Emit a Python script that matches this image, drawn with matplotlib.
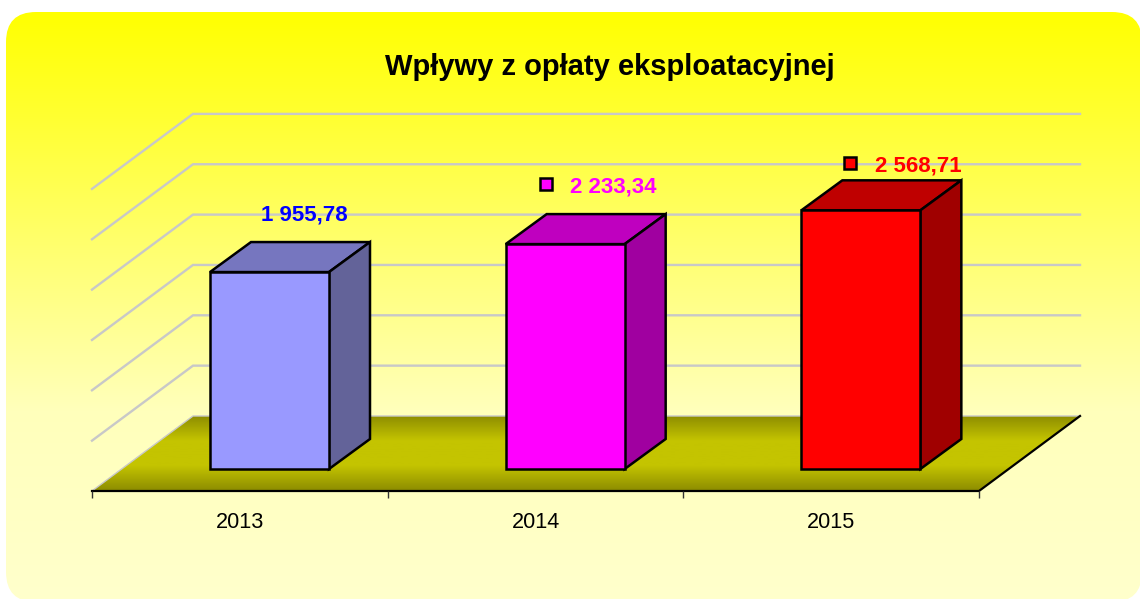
import matplotlib
matplotlib.use('Agg')
import matplotlib.pyplot as plt
from matplotlib.colors import LinearSegmentedColormap
from matplotlib.patches import FancyBboxPatch, Polygon
from matplotlib.transforms import IdentityTransform
import numpy as np

years = ['2013', '2014', '2015']
values = [1955.78, 2233.34, 2568.71]
value_labels = ['1 955,78', '2 233,34', '2 568,71']
grid_values = [500, 1000, 1500, 2000, 2500, 3000]

front_colors = ['#9999FF', '#FF00FF', '#FF0000']
top_colors = ['#7676BF', '#BF00BF', '#BF0000']
side_colors = ['#636399', '#A000A0', '#A00000']
label_colors = ['#0000FF', '#FF00FF', '#FF0000']
show_marker = [False, True, True]

# scale of the picture
px_x = 295.67   # pixels per category
px_y = 0.1007   # pixels per value unit
W, H = 1140, 599

def dx(px):
    return px / px_x

def dy(px):
    return px / px_y

# offsets of the 3d box, in data units
wall_x, wall_y = dx(101), dy(75)
bar_x, bar_y = dx(118), dy(22)
depth_x, depth_y = dx(41), dy(30)
bar_w = dx(119)
# label position from the back top edge of the box
label_dx = [dx(53), dx(67), dx(76)]
label_dy = [dy(27), dy(27), dy(14.5)]

plt.rcParams['font.family'] = ['Liberation Sans', 'DejaVu Sans']
fig = plt.figure(figsize=(W / 100, H / 100), dpi=100)
ax = fig.add_axes([0, 0, 1, 1])
xlim = (-92 / px_x - 0.5, (W - 92) / px_x - 0.5)
ylim = (-(H - 491) / px_y, 491 / px_y)
ax.axis('off')

# page background with the rounded panel
bg_cmap = LinearSegmentedColormap.from_list('bg', [(0, '#FFFF00'), (0.68, '#FFFFBB'), (1, '#FFFFCC')])
bg = ax.imshow(np.linspace(0, 1, 256).reshape(-1, 1), cmap=bg_cmap, aspect='auto', zorder=0,
               extent=(xlim[0], xlim[1], ylim[0], ylim[1] - dy(12)), origin='upper')
panel = FancyBboxPatch((6, -3), W - 4, H + 3 - 12, boxstyle='round,pad=0,rounding_size=30',
                       transform=IdentityTransform(), fc='none', ec='none')
ax.add_patch(panel)
bg.set_clip_path(panel)

# back wall grid
for v in grid_values:
    ax.plot([-0.5, -0.5 + wall_x, 2.5 + wall_x], [v, v + wall_y, v + wall_y],
            color='#C8C8C8', lw=1.7, zorder=1, solid_joinstyle='miter')

# floor
floor_xy = [(-0.5, 0), (2.5, 0), (2.5 + wall_x, wall_y), (-0.5 + wall_x, wall_y)]
floor_cmap = LinearSegmentedColormap.from_list('floor', ['#8C8C00', '#C4C400', '#C4C400', '#8C8C00'])
floor = ax.imshow(np.linspace(0, 1, 128).reshape(-1, 1), cmap=floor_cmap, aspect='auto', zorder=2,
                  extent=(-0.5, 2.5 + wall_x, 0, wall_y), origin='upper')
floor_poly = Polygon(floor_xy, closed=True, fc='none', ec='none', transform=ax.transData)
ax.add_patch(floor_poly)
floor.set_clip_path(floor_poly)
ax.plot([-0.5, -0.5 + wall_x, 2.5 + wall_x], [0, wall_y, wall_y], color='#C8C8C8', lw=1, zorder=2.1)
ax.plot([-0.5, 2.5, 2.5 + wall_x], [0, 0, wall_y], color='black', lw=1.6, zorder=2.2)

# category ticks
ax.vlines(np.arange(4) - 0.5, dy(-7), 0, color='#333333', lw=1, zorder=2.2)

# bars
for i, v in enumerate(values):
    x0 = i - 0.5 + bar_x
    x1 = x0 + bar_w
    y0 = bar_y
    y1 = bar_y + v
    kw = dict(closed=True, ec='black', lw=1.8, joinstyle='miter', zorder=3)
    ax.add_patch(Polygon([(x0, y1), (x1, y1), (x1 + depth_x, y1 + depth_y), (x0 + depth_x, y1 + depth_y)],
                         fc=top_colors[i], **kw))
    ax.add_patch(Polygon([(x1, y0), (x1 + depth_x, y0 + depth_y), (x1 + depth_x, y1 + depth_y), (x1, y1)],
                         fc=side_colors[i], **kw))
    ax.add_patch(Polygon([(x0, y0), (x1, y0), (x1, y1), (x0, y1)], fc=front_colors[i], **kw))

    lx = x0 + depth_x + label_dx[i]
    ly = y1 + depth_y + label_dy[i]
    ax.text(lx, ly, value_labels[i], color=label_colors[i], fontsize=16, fontweight='bold',
            ha='center', va='center', zorder=5)
    if show_marker[i]:
        ax.plot(lx - dx(68), ly + dy(3), 's', ms=8, mfc=front_colors[i], mec='black', mew=1.8, zorder=5)

    ax.text(i, dy(-32), years[i], color='black', fontsize=15.6, ha='center', va='center', zorder=5)

ax.text(dx(610 - 92) - 0.5, dy(491 - 67), 'Wpływy z opłaty eksploatacyjnej', color='black',
        fontsize=21, fontweight='bold', ha='center', va='center', zorder=5)

ax.set_xlim(xlim)
ax.set_ylim(ylim)
fig.savefig('out.png', dpi=100, facecolor='white')
